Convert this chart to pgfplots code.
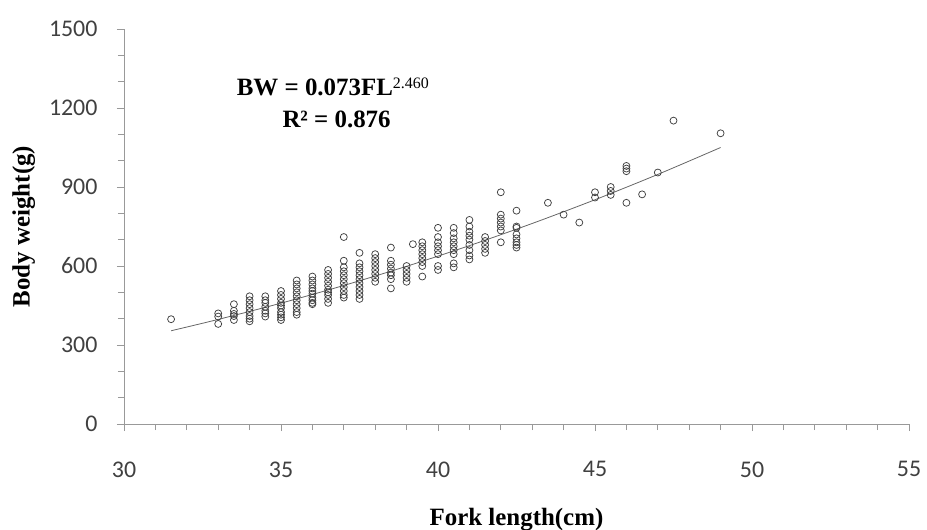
\documentclass[border=0pt]{standalone}
\usepackage{pgfplots}
\pgfplotsset{compat=1.18}
\usepackage{fontspec}
\setmainfont{Liberation Serif}
\newfontfamily\carlito{Carlito}
\begin{document}
\begin{tikzpicture}
\begin{axis}[
  at={(0,0)}, anchor=south west,
  scale only axis, width=785bp, height=395bp,
  xmin=30, xmax=55, ymin=0, ymax=1500,
  xtick={30,35,...,55}, ytick={0,300,...,1500},
  minor x tick num=4, minor y tick num=2,
  axis x line=bottom, axis y line=left,
  axis line style={-, draw=black!40, line width=0.8pt},
  tick style={draw=black!40, line width=0.8pt},
  tick align=outside,
  major tick length=7bp, minor tick length=6bp,
  /pgf/number format/assume math mode=true,
  /pgf/number format/1000 sep={},
  ticklabel style={font=\carlito\fontsize{24}{24}\selectfont, text=black!75},
  xticklabel style={yshift=-27bp},
  yticklabel style={xshift=-16bp},
  xlabel={\fontsize{25}{25}\selectfont\bfseries Fork length(cm)},
  ylabel={\fontsize{25}{25}\selectfont\bfseries Body weight(g)},
  xlabel style={yshift=-24bp},
  ylabel style={yshift=7bp},
  clip=false,
]
\addplot[only marks, mark=o, mark size=3.5pt, mark options={draw=black!75, line width=0.75pt}] coordinates {
(31.5,398)
(33.0,420) (33.0,408) (33.0,380)
(33.5,455) (33.5,430) (33.5,418) (33.5,410) (33.5,395)
(34.0,485) (34.0,470) (34.0,455) (34.0,440) (34.0,425) (34.0,410) (34.0,400) (34.0,390)
(34.5,485) (34.5,470) (34.5,460) (34.5,445) (34.5,430) (34.5,420) (34.5,408)
(35.0,505) (35.0,490) (35.0,475) (35.0,460) (35.0,450) (35.0,440) (35.0,425) (35.0,415) (35.0,405) (35.0,395)
(35.5,545) (35.5,530) (35.5,515) (35.5,500) (35.5,485) (35.5,470) (35.5,455) (35.5,440) (35.5,425) (35.5,415)
(36.0,560) (36.0,545) (36.0,530) (36.0,515) (36.0,505) (36.0,495) (36.0,480) (36.0,470) (36.0,460) (36.0,455)
(36.5,585) (36.5,570) (36.5,555) (36.5,540) (36.5,525) (36.5,510) (36.5,500) (36.5,490) (36.5,475) (36.5,460)
(37.0,710) (37.0,620) (37.0,595) (37.0,580) (37.0,565) (37.0,550) (37.0,535) (37.0,520) (37.0,505) (37.0,490) (37.0,480)
(37.5,650) (37.5,610) (37.5,595) (37.5,580) (37.5,565) (37.5,550) (37.5,535) (37.5,520) (37.5,505) (37.5,490) (37.5,475)
(38.0,645) (38.0,630) (38.0,615) (38.0,600) (38.0,585) (38.0,570) (38.0,555) (38.0,540)
(38.5,670) (38.5,620) (38.5,605) (38.5,590) (38.5,575) (38.5,565) (38.5,550) (38.5,515)
(39.0,600) (39.0,585) (39.0,570) (39.0,555) (39.0,540)
(39.2,683)
(39.5,690) (39.5,675) (39.5,660) (39.5,645) (39.5,630) (39.5,615) (39.5,600) (39.5,560)
(40.0,745) (40.0,710) (40.0,690) (40.0,675) (40.0,660) (40.0,645) (40.0,600) (40.0,585)
(40.5,745) (40.5,725) (40.5,705) (40.5,690) (40.5,675) (40.5,660) (40.5,645) (40.5,610) (40.5,595)
(41.0,775) (41.0,750) (41.0,730) (41.0,715) (41.0,700) (41.0,680) (41.0,660) (41.0,640) (41.0,625)
(41.5,710) (41.5,695) (41.5,680) (41.5,665) (41.5,650)
(42.0,880) (42.0,795) (42.0,780) (42.0,765) (42.0,750) (42.0,735) (42.0,690)
(42.5,810) (42.5,750) (42.5,745) (42.5,720) (42.5,705) (42.5,690) (42.5,680) (42.5,670)
(43.5,840) (44.0,795) (44.5,765)
(45.0,880) (45.0,860)
(45.5,900) (45.5,885) (45.5,870)
(46.0,980) (46.0,970) (46.0,960) (46.0,840)
(46.5,872) (47.0,955) (47.5,1152) (49.0,1104)
};
\addplot[smooth, draw=black!60, line width=0.8pt] coordinates {
(31.5,354.1) (33,397.1) (35,458.9) (37,526.1) (39,598.9) (41,677.3) (43,761.5) (45,851.6) (47,947.8) (49,1050.0)
};
\node[font=\fontsize{25}{25}\selectfont\bfseries, anchor=center] at (axis cs:36.65,1280) {BW = 0.073FL\raisebox{0.6ex}{\fontsize{16}{16}\selectfont\mdseries 2.460}};
\node[font=\fontsize{25}{25}\selectfont\bfseries, anchor=center] at (axis cs:36.77,1158) {R² = 0.876};
\end{axis}
\pgfresetboundingbox
\path[use as bounding box] (-124bp,-106bp) rectangle (803bp,424bp);
\end{tikzpicture}
\end{document}
